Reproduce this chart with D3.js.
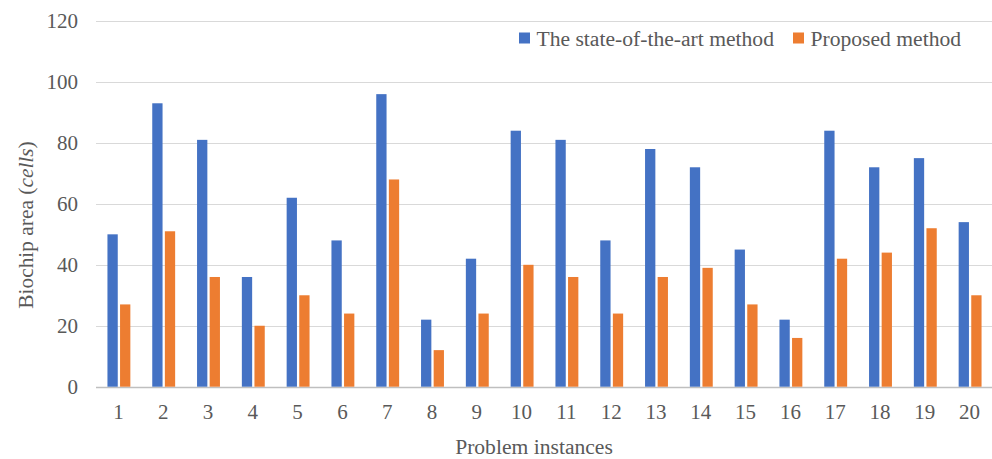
<!DOCTYPE html>
<html><head><meta charset="utf-8">
<script src="https://cdn.jsdelivr.net/npm/d3@7"></script>
<style>body{margin:0;background:#fff;} text{font-family:"Liberation Serif","Times New Roman",serif;fill:#595959;}</style>
</head><body><svg id="c" width="992" height="459"></svg>
<script>
const categories = ["1","2","3","4","5","6","7","8","9","10","11","12","13","14","15","16","17","18","19","20"];
const stateOfTheArt = [50,93,81,36,62,48,96,22,42,84,81,48,78,72,45,22,84,72,75,54];
const proposed = [27,51,36,20,30,24,68,12,24,40,36,24,36,39,27,16,42,44,52,30];
const seriesNames = ["The state-of-the-art method","Proposed method"];
const yTicks = [0,20,40,60,80,100,120];
const colors = ["#4472C4","#ED7D31"];

const svg = d3.select("#c");
const plotL=96, plotR=992, plotT=21, plotB=386.7;
const x = d3.scaleBand().domain(categories).range([plotL,plotR]);
const y = d3.scaleLinear().domain([0,120]).range([plotB,plotT]);
const barW = 10.3, gap = 2.3;

// gridlines
svg.append("g").selectAll("line").data(yTicks).join("line")
  .attr("x1",plotL).attr("x2",plotR)
  .attr("y1",d=>Math.round(y(d))+0.5).attr("y2",d=>Math.round(y(d))+0.5)
  .attr("stroke",d=>d===0?"#bfbfbf":"#d9d9d9").attr("stroke-width",d=>d===0?1.5:1.2);

// y tick labels
svg.append("g").selectAll("text").data(yTicks).join("text")
  .attr("x",78).attr("y",d=>y(d)).attr("dy","0.35em").attr("text-anchor","end")
  .attr("font-size",21).text(d=>d);

// bars
const series=[stateOfTheArt,proposed];
series.forEach((vals,si)=>{
  svg.append("g").selectAll("rect").data(vals).join("rect")
    .attr("x",(d,i)=>x(categories[i])+x.bandwidth()/2 - (barW+gap/2) + si*(barW+gap) + 0.5)
    .attr("width",barW)
    .attr("y",d=>y(d)).attr("height",d=>plotB-y(d))
    .attr("fill",colors[si]);
});

// x tick labels
svg.append("g").selectAll("text").data(categories).join("text")
  .attr("x",d=>x(d)+x.bandwidth()/2).attr("y",419).attr("text-anchor","middle")
  .attr("font-size",21).text(d=>d);

// axis titles
svg.append("text").attr("x",534).attr("y",454).attr("text-anchor","middle").attr("font-size",21.6).text("Problem instances");
const yt = svg.append("text").attr("transform","translate(33,225) rotate(-90)").attr("text-anchor","middle").attr("font-size",21.4);
yt.append("tspan").text("Biochip area (");
yt.append("tspan").attr("font-style","italic").text("cells");
yt.append("tspan").text(")");

// legend
const legX=[519,793];
seriesNames.forEach((n,i)=>{
  svg.append("rect").attr("x",legX[i]).attr("y",32.5).attr("width",11).attr("height",11).attr("fill",colors[i]);
  svg.append("text").attr("x",legX[i]+17.5).attr("y",45.5).attr("font-size",21.6).text(n);
});
</script></body></html>
